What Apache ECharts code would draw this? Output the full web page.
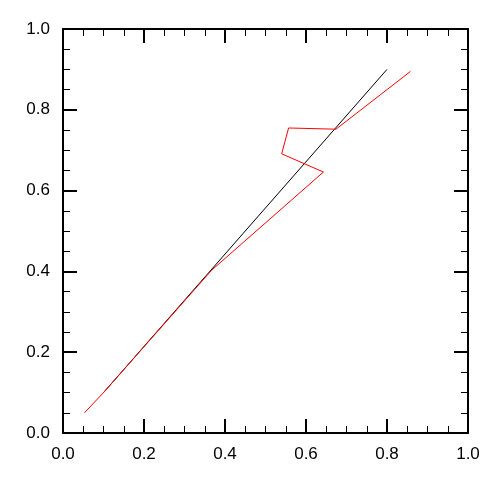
<!DOCTYPE html>
<html>
<head>
<meta charset="utf-8">
<script src="https://cdn.jsdelivr.net/npm/echarts@6/dist/echarts.min.js"></script>
<style>
  html, body { margin: 0; padding: 0; background: #fff; }
  #chart { width: 500px; height: 484px; }
</style>
</head>
<body>
<div id="chart"></div>
<script>
// reference line
const blackX = [0.1, 0.8];
const blackY = [0.1, 0.9];
// red trajectory
const redX = [0.053, 0.1, 0.367, 0.643, 0.540, 0.557, 0.674, 0.858];
const redY = [0.05, 0.1, 0.403, 0.646, 0.691, 0.755, 0.752, 0.895];

const pair = (xs, ys) => xs.map((x, i) => [x, ys[i]]);

const chart = echarts.init(document.getElementById("chart"));

const fmt = (v) => v.toFixed(1);
const baseAxis = (pos, showLabel) => ({
  type: "value",
  position: pos,
  min: 0,
  max: 1,
  interval: 0.2,
  axisLine: { show: true, onZero: false, lineStyle: { color: "#000", width: 2 } },
  axisTick: { show: true, inside: true, length: 14, lineStyle: { color: "#000", width: 2 } },
  minorTick: { show: true, splitNumber: 4, length: 7, lineStyle: { color: "#000", width: 1 } },
  splitLine: { show: false },
  minorSplitLine: { show: false },
  axisLabel: {
    show: showLabel,
    formatter: fmt,
    color: "#000",
    fontFamily: "Liberation Sans",
    fontSize: 17,
    margin: 13,
  },
});

chart.setOption({
  animation: false,
  grid: { left: 63, right: 32, top: 29, bottom: 51, containLabel: false },
  xAxis: [baseAxis("bottom", true), baseAxis("top", false)],
  yAxis: [baseAxis("left", true), baseAxis("right", false)],
  series: [
    {
      type: "line",
      data: pair(blackX, blackY),
      showSymbol: false,
      lineStyle: { color: "#000", width: 1 },
      z: 2,
    },
    {
      type: "line",
      data: pair(redX, redY),
      showSymbol: false,
      lineStyle: { color: "#ff0000", width: 1 },
      z: 3,
    },
  ],
});
</script>
</body>
</html>
